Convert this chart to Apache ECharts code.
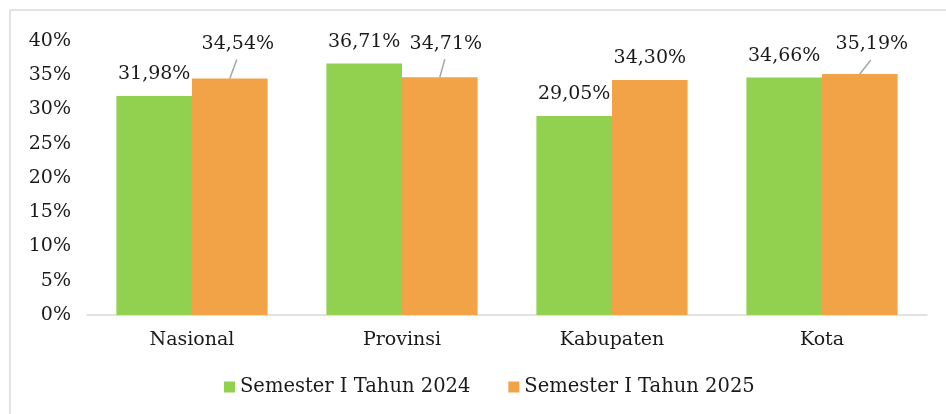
<!DOCTYPE html>
<html>
<head>
<meta charset="UTF-8">
<title>Semester I 2024 vs 2025</title>
<script src="https://cdn.jsdelivr.net/npm/echarts@6/dist/echarts.min.js"></script>
<style>
  html, body { margin: 0; padding: 0; background: #fff; }
</style>
</head>
<body>
<div id="main" style="width:946px;height:414px"></div>
<script>
// data
var categories = ['Nasional', 'Provinsi', 'Kabupaten', 'Kota'];
var sem2024 = [31.98, 36.71, 29.05, 34.66];
var sem2025 = [34.54, 34.71, 34.30, 35.19];
var seriesNames = ['Semester I Tahun 2024', 'Semester I Tahun 2025'];

// moved labels (with leader lines) on the 2025 bars, in px
var labelShift2025 = [[8, -13], [6, -12], [0, 0], [12, -8]];

var FONT = 'DejaVu Serif';
var LABEL_DIST = 12;
var CAT_GAP = 0.28;   // barCategoryGap

function fmt(v) {
  return v.toFixed(2).replace('.', ',') + '%';
}

var chart = echarts.init(document.getElementById('main'));

var option = {
  animation: false,
  textStyle: { fontFamily: FONT },
  graphic: [{
    type: 'rect',
    shape: { x: 10, y: 10, width: 1000, height: 500 },
    style: { fill: 'none', stroke: '#d9d9d9', lineWidth: 1.5 },
    silent: true
  }],
  legend: {
    data: seriesNames,
    top: 377,
    left: 224,
    itemWidth: 11,
    itemHeight: 11,
    itemGap: 38,
    padding: 0,
    icon: 'rect',
    textStyle: { fontFamily: FONT, fontSize: 19.5, color: '#1a1a1a' }
  },
  grid: { left: 87, right: 19, top: 41, bottom: 99 },
  xAxis: {
    type: 'category',
    data: categories,
    axisLine: { lineStyle: { color: '#d9d9d9', width: 1.5 } },
    axisTick: { show: false },
    axisLabel: { fontFamily: FONT, fontSize: 19, color: '#1a1a1a', margin: 16 }
  },
  yAxis: {
    type: 'value',
    min: 0,
    max: 40,
    interval: 5,
    splitLine: { show: false },
    axisLine: { show: false },
    axisTick: { show: false },
    axisLabel: {
      fontFamily: FONT, fontSize: 19, color: '#1a1a1a', margin: 16,
      formatter: function (v) { return v + '%'; }
    }
  },
  series: [
    {
      name: seriesNames[0],
      type: 'bar',
      data: sem2024,
      barGap: '0%',
      barCategoryGap: (CAT_GAP * 100) + '%',
      itemStyle: { color: '#92d050' },
      label: {
        show: true, position: 'top', distance: LABEL_DIST,
        fontFamily: FONT, fontSize: 19, color: '#1a1a1a',
        formatter: function (p) { return fmt(p.value); }
      }
    },
    {
      name: seriesNames[1],
      type: 'bar',
      data: sem2025,
      itemStyle: { color: '#f2a247' },
      label: {
        show: true, position: 'top', distance: LABEL_DIST,
        fontFamily: FONT, fontSize: 19, color: '#1a1a1a',
        formatter: function (p) { return fmt(p.value); }
      },
      labelLayout: function (p) {
        var s = labelShift2025[p.dataIndex];
        return { dx: s[0], dy: s[1] };
      }
    },
    {
      // leader lines from the 2025 bars to their moved labels
      type: 'custom',
      silent: true,
      z: 5,
      data: sem2025.map(function (v, i) { return [i, v]; }),
      renderItem: function (params, api) {
        var i = api.value(0);
        var s = labelShift2025[i];
        if (s[0] === 0 && s[1] === 0) return null;
        var top = api.coord([i, api.value(1)]);
        var band = api.size([1, 0])[0];
        var cx = top[0] + band * (1 - CAT_GAP) / 4;
        return {
          type: 'line',
          shape: {
            x1: cx, y1: top[1],
            x2: cx + s[0] - 1, y2: top[1] - LABEL_DIST + s[1] + 6
          },
          style: { stroke: '#a6a6a6', lineWidth: 1.5 }
        };
      }
    }
  ]
};

chart.setOption(option);
</script>
</body>
</html>
